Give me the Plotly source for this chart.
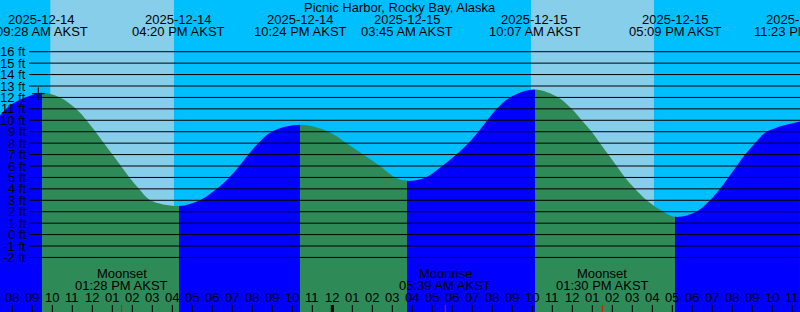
import pandas as pd
import plotly.graph_objects as go

# ---------------- data ----------------
T0 = pd.Timestamp("2025-12-14 00:00")


def to_hours(s):
    return (pd.Timestamp(s) - T0) / pd.Timedelta(hours=1)


STATION = "Picnic Harbor, Rocky Bay, Alaska"
TZ = "AKST"

# high / low tide events
tide_event_times = ["2025-12-14 09:28", "2025-12-14 16:20", "2025-12-14 22:24",
                    "2025-12-15 03:45", "2025-12-15 10:07", "2025-12-15 17:09",
                    "2025-12-15 23:23"]
tide_event_kinds = ["high", "low", "high", "low", "high", "low", "high"]
tide_event_ft = [12.4, 2.5, 9.6, 4.7, 12.7, 1.55, 9.9]

# tide curve samples (hours after 2025-12-14 00:00, feet)
curve_hours = [7.385, 7.885, 8.385, 8.885, 10.385, 11.185, 11.71, 12.16, 12.585,
               13.01, 13.435, 13.86, 14.335, 14.91,
               17.385, 18.22, 18.85, 19.35, 19.8, 20.3, 20.97,
               23.8, 24.72, 25.55, 26.385, 27.135,
               28.66, 29.5, 30.2, 30.8, 31.3, 31.75, 32.22, 32.885,
               35.3, 35.97, 36.47, 36.97, 37.385, 37.8, 38.22, 38.635, 39.135, 39.72, 40.55,
               42.2, 42.885, 43.385, 43.8, 44.22, 44.635, 45.135, 45.72]
curve_ft = [10.45, 11.3, 11.8, 12.15, 12.0, 11, 10, 9, 8,
            7, 6, 5, 4, 3,
            3, 4, 5, 6, 7, 8, 9,
            9, 8, 7, 6, 5,
            5, 6, 7, 8, 9, 10, 11, 12,
            12, 11, 10, 9, 8, 7, 6, 5, 4, 3, 2,
            2, 3, 4, 5, 6, 7, 8, 9]

moon_event_times = ["2025-12-14 13:28", "2025-12-15 05:39", "2025-12-15 13:30"]
moon_event_names = ["Moonset", "Moonrise", "Moonset"]

sunrise_times = ["2025-12-14 09:54", "2025-12-15 09:56"]
sunset_times = ["2025-12-14 16:05", "2025-12-15 16:05"]

now_time = "2025-12-14 09:18"
now_ft = 12.33

ft_levels = list(range(-2, 17))
hour_ticks = pd.date_range("2025-12-14 08:00", "2025-12-15 23:00", freq="h")

# ---------------- style / layout constants ----------------
W, H = 800, 312
X_LO, X_HI = 7.385, 47.385
Y_LO, Y_HI = -6.773, 20.524
SKY_NIGHT = "#00BFFF"
SKY_DAY = "#87CEEB"
WATER_FALL = "#2E8B57"
WATER_RISE = "#0000FF"
FONT = "Liberation Sans, Arial, sans-serif"
FS = 13


def px_to_ft(p):
    return Y_HI - p * (Y_HI - Y_LO) / H


def px_to_paper(p):
    return 1 - p / H


def px_to_hours(p):
    return X_LO + p * (X_HI - X_LO) / W


fig = go.Figure()

# daylight bands
dx, dy = [], []
for r, s in zip(sunrise_times, sunset_times):
    a, b = to_hours(r), to_hours(s)
    dx += [a, b, b, a, a, None]
    dy += [Y_LO - 5, Y_LO - 5, Y_HI + 5, Y_HI + 5, Y_LO - 5, None]
fig.add_trace(go.Scatter(x=dx, y=dy, mode="lines", fill="toself", fillcolor=SKY_DAY,
                         line=dict(width=0), hoverinfo="skip"))

# tide curve (samples + events)
ev_hours = [to_hours(t) for t in tide_event_times]
pts = sorted(zip(curve_hours + ev_hours, curve_ft + tide_event_ft))
cx = [p[0] for p in pts]
cy = [p[1] for p in pts]

# colour stops: falling after a high, rising after a low
stops = []
color = WATER_RISE
prev = 0.0
for t, kind in zip(ev_hours, tide_event_kinds):
    f = min(max((t - X_LO) / (X_HI - X_LO), 0.0), 1.0)
    stops += [[prev, color], [f, color]]
    color = WATER_FALL if kind == "high" else WATER_RISE
    prev = f
stops += [[prev, color], [1.0, color]]

fig.add_trace(go.Scatter(x=[cx[0], cx[-1]], y=[Y_LO - 5, Y_LO - 5], mode="lines",
                         line=dict(width=0), hoverinfo="skip"))
fig.add_trace(go.Scatter(x=cx, y=cy, mode="lines",
                         line=dict(width=0, shape="spline", smoothing=1.0, simplify=False),
                         fill="tonexty",
                         fillgradient=dict(type="horizontal", colorscale=stops,
                                           start=X_LO, stop=X_HI),
                         hoverinfo="skip"))

# horizontal foot lines
line_start = px_to_hours(29)
lx, ly = [], []
for v in ft_levels:
    lx += [line_start, X_HI + 1, None]
    ly += [v, v, None]
fig.add_trace(go.Scatter(x=lx, y=ly, mode="lines", line=dict(color="black", width=1),
                         hoverinfo="skip"))

# current-time mark
fig.add_trace(go.Scatter(x=[to_hours(now_time)], y=[now_ft], mode="markers",
                         marker=dict(symbol="cross-thin", size=9,
                                     line=dict(color="black", width=1)),
                         hoverinfo="skip"))

# hour ticks
tick_top, tick_bot = px_to_ft(305), px_to_ft(H + 5)
tx, ty, mx, my = [], [], [], []
for ts in hour_ticks:
    h = (ts - T0) / pd.Timedelta(hours=1)
    if ts.hour == 0:
        mx += [h, h, None]
        my += [tick_top, tick_bot, None]
    else:
        tx += [h, h, None]
        ty += [tick_top, tick_bot, None]
fig.add_trace(go.Scatter(x=tx, y=ty, mode="lines", line=dict(color="black", width=1),
                         hoverinfo="skip"))
fig.add_trace(go.Scatter(x=mx, y=my, mode="lines", line=dict(color="black", width=3),
                         hoverinfo="skip"))
rx, ry = [], []
for t in moon_event_times:
    h = to_hours(t)
    rx += [h, h, None]
    ry += [tick_top, tick_bot, None]
fig.add_trace(go.Scatter(x=rx, y=ry, mode="lines", line=dict(color="red", width=1),
                         hoverinfo="skip"))

# ---------------- text ----------------
ann = []


def add_text(x, y, text, xref="x", yref="paper", xanchor="center"):
    ann.append(dict(x=x, y=y, xref=xref, yref=yref, text=text, showarrow=False,
                    xanchor=xanchor, yanchor="middle",
                    font=dict(family=FONT, size=FS, color="black")))


add_text(0.5, px_to_paper(7), STATION, xref="paper")
for t in tide_event_times:
    ts = pd.Timestamp(t)
    h = to_hours(t)
    add_text(h, px_to_paper(19.5), ts.strftime("%Y-%m-%d"))
    add_text(h, px_to_paper(31.5), ts.strftime("%I:%M %p ") + TZ)

for t, name in zip(moon_event_times, moon_event_names):
    ts = pd.Timestamp(t)
    h = to_hours(t)
    add_text(h, px_to_paper(273.5), name)
    add_text(h, px_to_paper(285.5), ts.strftime("%I:%M %p ") + TZ)

for ts in hour_ticks:
    h = (ts - T0) / pd.Timedelta(hours=1)
    add_text(h, px_to_paper(297), ts.strftime("%I"))

for v in ft_levels:
    add_text(27.5 / W, v, f"{v} ft", xref="paper", yref="y", xanchor="right")

fig.update_layout(
    width=W, height=H, margin=dict(l=0, r=0, t=0, b=0, pad=0),
    showlegend=False,
    plot_bgcolor=SKY_NIGHT, paper_bgcolor=SKY_NIGHT,
    xaxis=dict(range=[X_LO, X_HI], visible=False, fixedrange=True),
    yaxis=dict(range=[Y_LO, Y_HI], visible=False, fixedrange=True),
    annotations=ann,
    font=dict(family=FONT, size=FS, color="black"),
)

fig.write_html("out.html")
